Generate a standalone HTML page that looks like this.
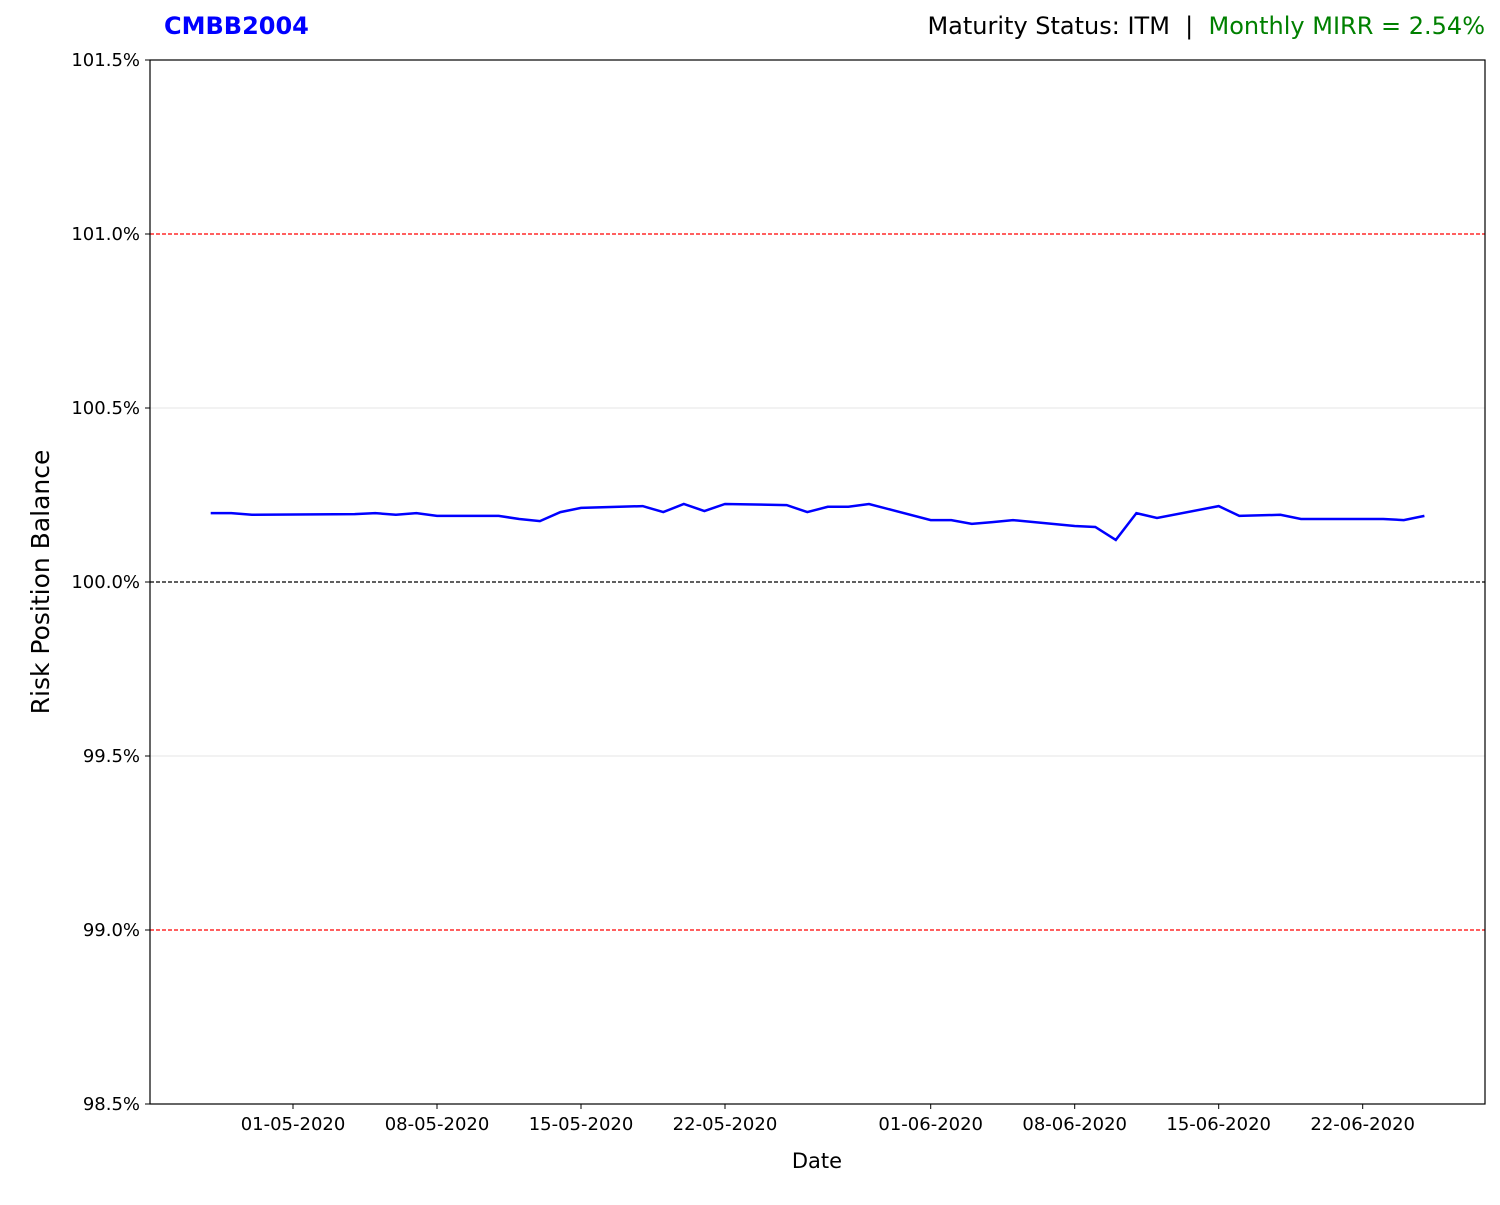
<!DOCTYPE html>
<html><head><meta charset="utf-8"><style>
body{margin:0;background:#fff;font-family:"Liberation Sans","DejaVu Sans",sans-serif}
svg text{font-family:"DejaVu Sans","Liberation Sans",sans-serif}
</style></head><body>
<svg id="c" width="1500" height="1200">
<text x="164" y="34" font-size="24" font-weight="bold" fill="#0000ff">CMBB2004</text>
<text x="1485" y="34" font-size="24" text-anchor="end"><tspan fill="#000">Maturity Status: ITM&#160;&#160;|&#160;&#160;</tspan><tspan fill="#008000">Monthly MIRR = 2.54%</tspan></text>
<g id="grid"></g><g id="ticks"></g>
<path id="line" fill="none" stroke="#0000ff" stroke-width="2.5"/>
<rect x="150" y="60" width="1335" height="1044" fill="none" stroke="#000" stroke-width="1.2"/>
<text x="817" y="1168" font-size="21" text-anchor="middle">Date</text>
<text transform="translate(49,582) rotate(-90)" font-size="25" text-anchor="middle">Risk Position Balance</text>
</svg>
<script>
const dates=["2020-04-27","2020-04-28","2020-04-29","2020-05-04","2020-05-05","2020-05-06","2020-05-07","2020-05-08","2020-05-11","2020-05-12","2020-05-13","2020-05-14","2020-05-15","2020-05-18","2020-05-19","2020-05-20","2020-05-21","2020-05-22","2020-05-25","2020-05-26","2020-05-27","2020-05-28","2020-05-29","2020-06-01","2020-06-02","2020-06-03","2020-06-04","2020-06-05","2020-06-08","2020-06-09","2020-06-10","2020-06-11","2020-06-12","2020-06-15","2020-06-16","2020-06-18","2020-06-19","2020-06-22","2020-06-23","2020-06-24","2020-06-25"];
const values=[100.198,100.198,100.193,100.195,100.198,100.193,100.198,100.190,100.190,100.181,100.175,100.201,100.213,100.218,100.201,100.224,100.204,100.224,100.221,100.201,100.216,100.216,100.224,100.178,100.178,100.167,100.172,100.178,100.161,100.158,100.121,100.198,100.184,100.218,100.190,100.193,100.181,100.181,100.181,100.178,100.190];
const yTicks=[98.5,99.0,99.5,100.0,100.5,101.0,101.5];
const xTicks=["2020-05-01","2020-05-08","2020-05-15","2020-05-22","2020-06-01","2020-06-08","2020-06-15","2020-06-22"];
const day=86400000, x0=Date.parse("2020-05-01");
const X=d=>293+(Date.parse(d)-x0)/day*20.571;
const Y=v=>582-(v-100)*348;
const ns="http://www.w3.org/2000/svg";
const g=document.getElementById('grid'),t=document.getElementById('ticks');
function mk(tag,a,p){const e=document.createElementNS(ns,tag);for(const k in a)e.setAttribute(k,a[k]);p.appendChild(e);return e;}
yTicks.forEach(v=>{const y=Y(v);
 let col=null,dash=null;
 if(Math.abs(v-101)<1e-9||Math.abs(v-99)<1e-9){col="#ff0000";dash="4,2";}
 else if(Math.abs(v-100)<1e-9){col="#000";dash="4,2";}
 else if(v>98.5&&v<101.5){col="#ebebeb";}
 if(col){const l=mk('line',{x1:150,x2:1485,y1:y,y2:y,stroke:col,'stroke-width':1.2},g);if(dash)l.setAttribute('stroke-dasharray',dash);
  
  }
 const tk=mk('line',{x1:145,x2:150,y1:y,y2:y,stroke:'#000'},t);
 
 
 const tx=mk('text',{x:140,y:y+6,'font-size':18,'text-anchor':'end'},t);tx.textContent=v.toFixed(1)+'%';
 
 
});
xTicks.forEach(d=>{const x=X(d);
 const tk=mk('line',{x1:x,x2:x,y1:1104,y2:1109,stroke:'#000'},t);
 
 
 const p=d.split('-');const tx=mk('text',{x:x,y:1130,'font-size':18,'text-anchor':'middle'},t);tx.textContent=p[2]+'-'+p[1]+'-'+p[0];
 
 
});
document.getElementById('line').setAttribute('d',dates.map((d,i)=>(i?'L':'M')+X(d).toFixed(1)+','+Y(values[i]).toFixed(1)).join(''));
</script>
</body></html>
